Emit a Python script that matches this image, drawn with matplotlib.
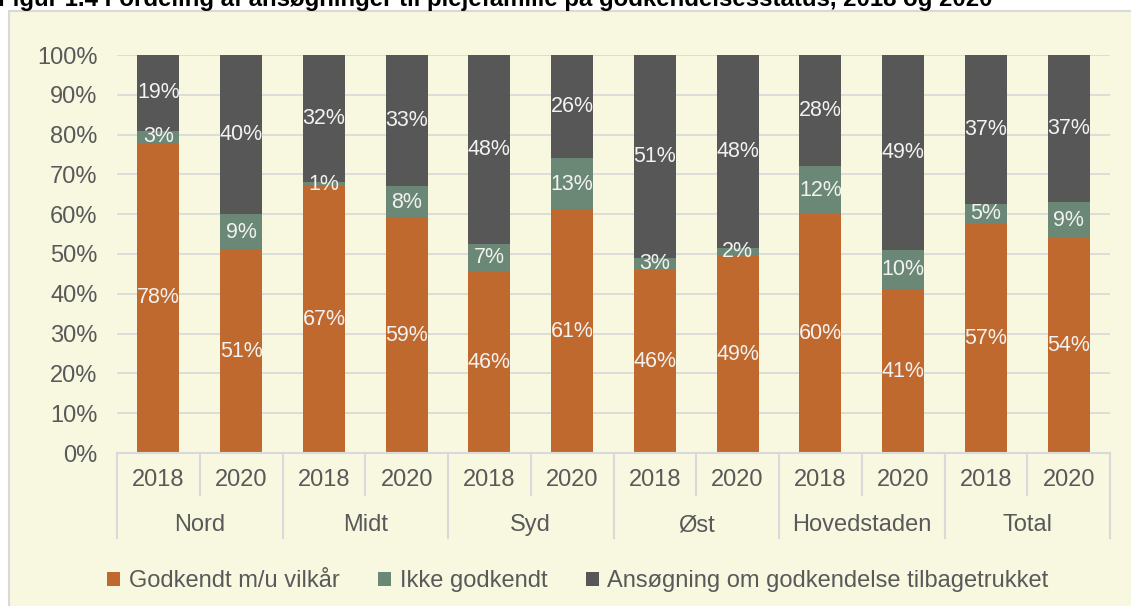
import matplotlib.pyplot as plt
from matplotlib.patches import Rectangle, Patch
import numpy as np

plt.rcParams['font.family'] = ['Liberation Sans', 'DejaVu Sans']

regions = ['Nord', 'Midt', 'Syd', 'Øst', 'Hovedstaden', 'Total']
years = ['2018', '2020']

godkendt = [78, 51, 67, 59, 46, 61, 46, 49, 60, 41, 57, 54]
ikke_godkendt = [3, 9, 1, 8, 7, 13, 3, 2, 12, 10, 5, 9]
tilbagetrukket = [19, 40, 32, 33, 48, 26, 51, 48, 28, 49, 37, 37]

series_names = ['Godkendt m/u vilkår', 'Ikke godkendt',
                'Ansøgning om godkendelse tilbagetrukket']
colors = ['#C0692E', '#6B8876', '#575757']
bg = '#F8F8E1'
grid_col = '#D9D9D9'
txt_col = '#595959'

W, H = 1131, 606
fig = plt.figure(figsize=(W / 100, H / 100), dpi=100)
fig.patch.set_facecolor('white')

# chart frame (runs off the right and bottom edges)
fig.patches.append(Rectangle((9 / W, -0.1), 1.2, (1 - 11 / H) + 0.1,
                             transform=fig.transFigure, facecolor=bg,
                             edgecolor=grid_col, linewidth=1.5, zorder=-5))

fig.text(-0.002, 1 - 6 / H,
         'Figur 1.4 Fordeling af ansøgninger til plejefamilie på godkendelsesstatus, 2018 og 2020',
         fontsize=17.3, fontweight='bold', color='black', va='baseline', ha='left')

ax_left, ax_right, ax_top, ax_bot = 117, 1110, 55, 453
ax = fig.add_axes([ax_left / W, 1 - ax_bot / H, (ax_right - ax_left) / W,
                   (ax_bot - ax_top) / H])
ax.set_facecolor('none')

data = np.array([godkendt, ikke_godkendt, tilbagetrukket], dtype=float)
share = data / data.sum(axis=0)
x = np.arange(len(godkendt))
bottom = np.zeros(len(x))
for i in range(3):
    ax.bar(x, share[i], bottom=bottom, width=0.51, color=colors[i], zorder=2)
    for xi, b, s, v in zip(x, bottom, share[i], data[i]):
        ax.text(xi, b + s / 2, '%d%%' % v, ha='center', va='center',
                fontsize=15.5, color='#F2F2F2', zorder=3)
    bottom += share[i]

ax.set_xlim(-0.5, len(x) - 0.5)
ax.set_ylim(0, 1)
ax.set_yticks(np.arange(0, 1.01, 0.1))
ax.set_yticklabels(['%d%%' % (v * 10) for v in range(11)])
ax.tick_params(axis='y', length=0, labelsize=17, labelcolor=txt_col, pad=14)
ax.set_xticks([])
ax.yaxis.grid(True, color=grid_col, linewidth=1.3, zorder=1)
ax.set_axisbelow(True)
for sp in ['top', 'right', 'left']:
    ax.spines[sp].set_visible(False)
ax.spines['bottom'].set_color(grid_col)
ax.spines['bottom'].set_linewidth(1.5)

# two-level category axis
hpx = ax_bot - ax_top
trans = ax.get_xaxis_transform()
for k in range(len(x) + 1):
    xb = k - 0.5
    depth = 85 if k % 2 == 0 else 42
    ax.plot([xb, xb], [0, -depth / hpx], transform=trans, color=grid_col,
            linewidth=1.5, clip_on=False)
for k in range(len(x)):
    ax.text(k, -27 / hpx, years[k % 2], transform=trans, ha='center',
            va='center', fontsize=17, color=txt_col)
for g, name in enumerate(regions):
    ax.text(2 * g + 0.5, -72 / hpx, name, transform=trans, ha='center',
            va='center', fontsize=17, color=txt_col)

handles = [Patch(facecolor=c) for c in colors]
leg = fig.legend(handles, series_names, loc='center', ncol=3,
                 bbox_to_anchor=(578 / W, 1 - 581 / H), frameon=False,
                 fontsize=17, handlelength=0.55, handleheight=0.55,
                 handletextpad=0.35, columnspacing=1.65)
for t in leg.get_texts():
    t.set_color(txt_col)

fig.savefig('out.png', dpi=100, facecolor=fig.get_facecolor())
